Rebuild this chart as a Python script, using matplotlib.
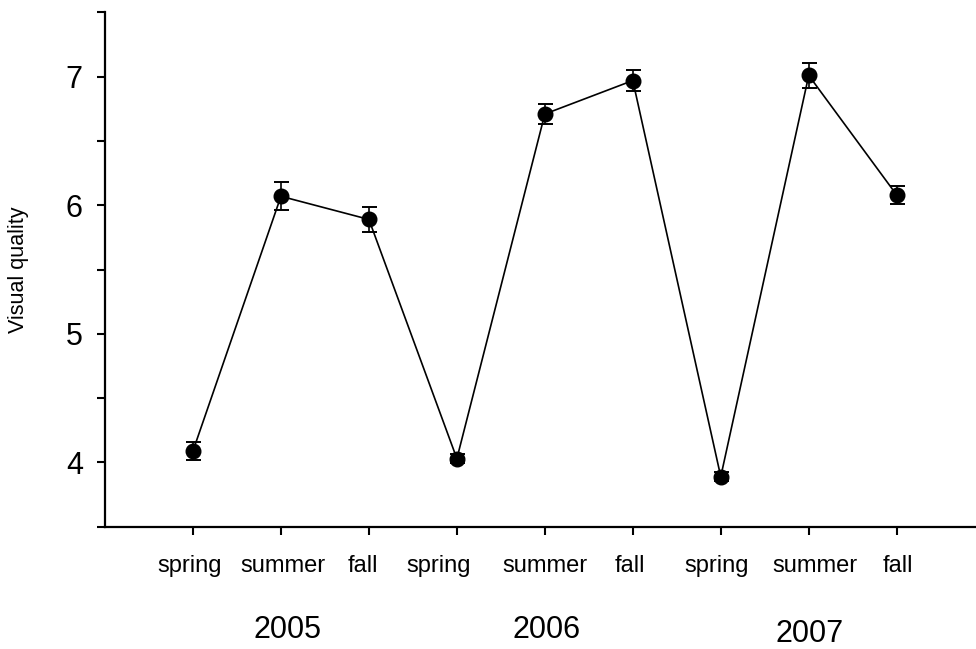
import matplotlib
matplotlib.use('Agg')
import matplotlib.pyplot as plt
import numpy as np

plt.rcParams['font.family'] = ['Liberation Sans', 'DejaVu Sans']

# Daten
seasons = ['spring', 'summer', 'fall', 'spring', 'summer', 'fall', 'spring', 'summer', 'fall']
years = ['2005', '2006', '2007']
quality = [4.09, 6.07, 5.89, 4.03, 6.71, 6.97, 3.89, 7.01, 6.08]
quality_err = [0.07, 0.11, 0.095, 0.035, 0.08, 0.08, 0.035, 0.095, 0.07]

x = np.arange(1, len(quality) + 1)

fig = plt.figure(figsize=(9.76, 6.49), dpi=100)
ax = fig.add_axes([0.1076, 0.1883, 0.891, 0.7926])

ax.errorbar(x, quality, yerr=quality_err, color='black', lw=1.2,
            marker='o', ms=10.5, capsize=5.4, capthick=1.4, elinewidth=1.2)

ax.set_xlim(0, 9.886)
ax.set_ylim(3.5, 7.5)

# y-Achse: Ticks alle 0.5, Beschriftung nur bei ganzen Zahlen
yt = np.arange(3.5, 7.51, 0.5)
ax.set_yticks(yt)
ax.set_yticklabels([str(int(v)) if v == int(v) and 4 <= v <= 7 else '' for v in yt], fontsize=22)
ax.tick_params(axis='y', direction='out', length=6, width=1.5, pad=10)

ax.set_xticks(x)
ax.set_xticklabels([])
ax.tick_params(axis='x', direction='out', length=6, width=1.5)

ax.spines['top'].set_visible(False)
ax.spines['right'].set_visible(False)
ax.spines['left'].set_linewidth(1.6)
ax.spines['bottom'].set_linewidth(1.6)

ax.set_ylabel('Visual quality', fontsize=15.5)
ax.yaxis.set_label_coords(-0.087, 0.5)

# Jahreszeiten und Jahre unter der Achse
shift = [-0.04, 0.02, -0.07, -0.21, 0.0, -0.03, -0.05, 0.07, 0.01]
trans = ax.get_xaxis_transform()
for i, s in enumerate(seasons):
    ax.text(x[i] + shift[i], -0.076, s, transform=trans, ha='center', va='center', fontsize=17)

year_shift = [0.07, 0.02, 0.01]
for i, yr in enumerate(years):
    ax.text(x[3 * i + 1] + year_shift[i], -0.201 - 0.008 * (i == 2), yr, transform=trans,
            ha='center', va='center', fontsize=22)

fig.savefig('out.png', dpi=100)
